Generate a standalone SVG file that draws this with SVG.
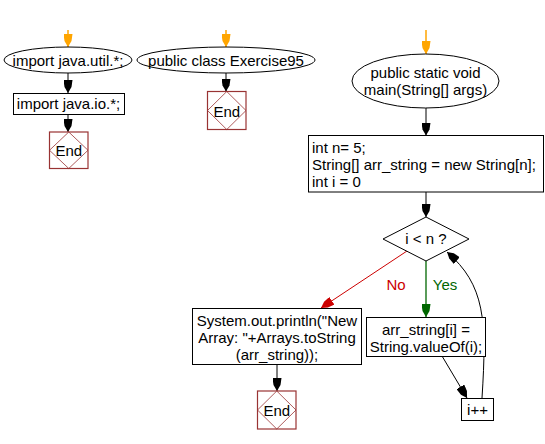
<svg xmlns="http://www.w3.org/2000/svg" width="545" height="444" viewBox="0 0 545 444">
<defs>
<style>
text{font-family:"Liberation Sans",Arial,sans-serif;font-size:15px;fill:#000}
.c{text-anchor:middle}
.shape{fill:#fff;stroke:#000;stroke-width:1}
.endbox{fill:#fff;stroke:#993333;stroke-width:1.2}
.endd{fill:none;stroke:#993333;stroke-width:0.8}
.ln{fill:none;stroke:#000;stroke-width:1}
.or{fill:none;stroke:#FFA500;stroke-width:1.5}
.rd{fill:none;stroke:#CC0000;stroke-width:1}
.gn{fill:none;stroke:#006600;stroke-width:1.3}
</style>
<marker id="ab" markerWidth="13" markerHeight="9" refX="13" refY="4.5" orient="auto" markerUnits="userSpaceOnUse"><path d="M0,0 L7,1 L13,4.5 L7,8 L0,9 z" fill="#000"/></marker>
<marker id="ao" markerWidth="13" markerHeight="9" refX="13" refY="4.5" orient="auto" markerUnits="userSpaceOnUse"><path d="M0,0 L7,1 L13,4.5 L7,8 L0,9 z" fill="#FFA500"/></marker>
<marker id="ar" markerWidth="13" markerHeight="9" refX="13" refY="4.5" orient="auto" markerUnits="userSpaceOnUse"><path d="M0,0 L7,1 L13,4.5 L7,8 L0,9 z" fill="#CC0000"/></marker>
<marker id="ag" markerWidth="13" markerHeight="9" refX="13" refY="4.5" orient="auto" markerUnits="userSpaceOnUse"><path d="M0,0 L7,1 L13,4.5 L7,8 L0,9 z" fill="#006600"/></marker>
</defs>

<g id="connectors">
<line class="or" x1="68" y1="30" x2="68" y2="47" marker-end="url(#ao)"/>
<line class="or" x1="226" y1="30" x2="226" y2="47" marker-end="url(#ao)"/>
<line class="or" x1="426" y1="30" x2="426" y2="54" marker-end="url(#ao)"/>
<line class="ln" x1="68" y1="73" x2="68" y2="93" marker-end="url(#ab)"/>
<line class="ln" x1="68" y1="114" x2="68" y2="132" marker-end="url(#ab)"/>
<line class="ln" x1="226" y1="73" x2="226" y2="91.5" marker-end="url(#ab)"/>
<line class="ln" x1="426" y1="108" x2="426" y2="135.5" marker-end="url(#ab)"/>
<line class="ln" x1="426" y1="192" x2="426" y2="217" marker-end="url(#ab)"/>
<line class="rd" x1="407" y1="251" x2="321" y2="308" marker-end="url(#ar)"/>
<line class="gn" x1="426" y1="261" x2="426" y2="317" marker-end="url(#ag)"/>
<line class="ln" x1="277" y1="364" x2="277" y2="391" marker-end="url(#ab)"/>
<line class="ln" x1="442" y1="356" x2="467" y2="398" marker-end="url(#ab)"/>
<path class="ln" d="M482,398 C487,320 485,285 447,252" marker-end="url(#ab)"/>
<text class="c" x="396" y="290" style="fill:#CC0000">No</text>
<text class="c" x="445" y="290" style="fill:#006600">Yes</text>
</g>

<g id="start1">
<ellipse class="shape" cx="68" cy="60" rx="64" ry="13"/>
<text class="c" x="68" y="65.5">import java.util.*;</text>
</g>
<g id="import_io">
<rect class="shape" x="13.5" y="93.5" width="111" height="21"/>
<text class="c" x="68.5" y="109">import java.io.*;</text>
</g>
<g id="end1">
<rect class="endbox" x="49.5" y="132" width="38.5" height="36.5"/>
<polygon class="endd" points="68.75,132 88,150.25 68.75,168.5 49.5,150.25"/>
<text class="c" x="68.75" y="156">End</text>
</g>

<g id="start2">
<ellipse class="shape" cx="226" cy="60" rx="89" ry="13"/>
<text class="c" x="226" y="65.5">public class Exercise95</text>
</g>
<g id="end2">
<rect class="endbox" x="207.5" y="91.5" width="38.5" height="38"/>
<polygon class="endd" points="226.75,91.5 246,110.5 226.75,129.5 207.5,110.5"/>
<text class="c" x="226.75" y="116.5">End</text>
</g>

<g id="start3">
<ellipse class="shape" cx="425.5" cy="81" rx="73.5" ry="27"/>
<text class="c" x="425.5" y="78">public static void</text>
<text class="c" x="425.5" y="95">main(String[] args)</text>
</g>
<g id="init">
<rect class="shape" x="308.5" y="135.5" width="235" height="56.5"/>
<text x="312" y="153">int n= 5;</text>
<text x="312" y="170">String[] arr_string = new String[n];</text>
<text x="312" y="187">int i = 0</text>
</g>
<g id="cond">
<polygon class="shape" points="426,217 469,239 426,261 383,239"/>
<text class="c" x="426" y="244">i &lt; n ?</text>
</g>
<g id="print">
<rect class="shape" x="192.5" y="308.5" width="169" height="56"/>
<text class="c" x="277" y="326">System.out.println("New</text>
<text class="c" x="277" y="343">Array: "+Arrays.toString</text>
<text class="c" x="277" y="360">(arr_string));</text>
</g>
<g id="end3">
<rect class="endbox" x="257.5" y="391" width="38.5" height="38"/>
<polygon class="endd" points="276.75,391 296,410 276.75,429 257.5,410"/>
<text class="c" x="276.75" y="416">End</text>
</g>
<g id="assign">
<rect class="shape" x="366.5" y="317.5" width="119" height="39"/>
<text class="c" x="426" y="335">arr_string[i] =</text>
<text class="c" x="426" y="352">String.valueOf(i);</text>
</g>
<g id="incr">
<rect class="shape" x="461.5" y="398.5" width="32" height="22"/>
<text class="c" x="477.5" y="414.5">i++</text>
</g>
</svg>
